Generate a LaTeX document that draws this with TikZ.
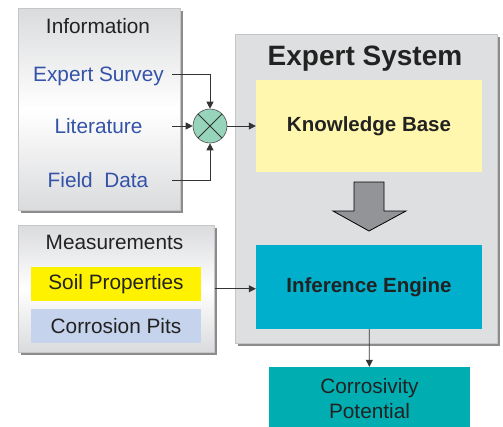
\documentclass[tikz,border=0pt]{standalone}
\usepackage{fontspec}
\setmainfont{Liberation Sans}
\usetikzlibrary{arrows.meta}
\usetikzlibrary{positioning}
\usetikzlibrary{shadows}

\definecolor{txtgray}{HTML}{222222}
\definecolor{infoblue}{HTML}{3453A8}
\definecolor{panelgray}{HTML}{DADBDD}
\definecolor{esgray}{HTML}{DEDFE1}
\definecolor{shadowgray}{HTML}{8C8C8E}
\definecolor{mixgreen}{HTML}{97D4BC}
\definecolor{kbyellow}{HTML}{FFF7AD}
\definecolor{iecyan}{HTML}{00AFCB}
\definecolor{cpteal}{HTML}{00AEB1}
\definecolor{soilyellow}{HTML}{FFF200}
\definecolor{pitblue}{HTML}{C6D3EC}
\definecolor{bigarrow}{HTML}{939498}

\begin{document}
\begin{tikzpicture}[x=1pt,y=-1pt,
  txt/.style={font=\fontsize{20.8}{25}\selectfont,text=txtgray,inner sep=0pt,align=center},
  bold/.style={txt,font=\fontsize{20.5}{25}\selectfont\bfseries},
  panel/.style={draw=gray!45,line width=0.5pt,anchor=north west,inner sep=0pt,
    drop shadow={shadow xshift=2.5pt,shadow yshift=-2.5pt,fill=shadowgray,opacity=1}},
  fade/.style={top color=panelgray,bottom color=panelgray,middle color=white},
  block/.style={inner sep=0pt,align=center},
  conn/.style={draw=black!80,line width=0.8pt,-{Triangle[length=7pt,width=7pt]}}]
  \useasboundingbox (0,0) rectangle (503,426);

  % sources
  \node[panel,fade,minimum width=162pt,minimum height=202pt] (info) at (18,8) {};
  \node[txt,anchor=base] (infotitle) at (98,33) {Information};
  \node[txt,anchor=base,text=infoblue] (survey) at (98.5,81) {Expert Survey};
  \node[txt,anchor=base,text=infoblue] (lit) at (98.5,133) {Literature};
  \node[txt,anchor=base,text=infoblue] (field) at (98,187) {Field\ \ Data};

  \node[panel,fade,minimum width=196pt,minimum height=127pt] (meas) at (18,225) {};
  \node[txt,anchor=base] (meastitle) at (114.5,249) {Measurements};
  \node[block,fill=soilyellow,minimum width=170pt,minimum height=34pt] (soil) at (116,284) {};
  \node[txt] at (soil) {Soil Properties};
  \node[block,fill=pitblue,minimum width=170pt,minimum height=34pt] (pits) at (116,326) {};
  \node[txt] at (pits) {Corrosion Pits};

  % expert system
  \node[panel,fill=esgray,minimum width=262pt,minimum height=309pt] (es) at (235,34) {};
  \node[txt,anchor=base,font=\fontsize{28}{32}\selectfont\bfseries] (estitle) at (365,65) {Expert System};
  \node[block,fill=kbyellow,minimum width=226pt,minimum height=92pt] (kb) at (369,126) {};
  \node[bold] at (kb) {Knowledge Base};
  \node[block,fill=iecyan,minimum width=226pt,minimum height=84pt] (ie) at (369,287) {};
  \node[bold] at (ie) {Inference Engine};
  \draw[fill=bigarrow,line width=0.8pt] (354,182) -- (384,182) -- (384,211) -- (406,211)
    -- (369,231) -- (333,211) -- (354,211) -- cycle;

  \node[block,fill=cpteal,minimum width=201pt,minimum height=60pt] (cp) at (369.5,397) {};
  \node[txt] at (369.5,399) {Corrosivity\\Potential};

  % mixing junction
  \node[circle,fill=mixgreen,draw=black!70,line width=0.6pt,minimum size=34pt,inner sep=0pt] (mix) at (210,126) {};
  \draw[black!80,line width=0.8pt] (mix.north west) -- (mix.south east) (mix.north east) -- (mix.south west);

  \coordinate (s1) at (172,74);
  \coordinate (s2) at (172,126);
  \coordinate (s3) at (172,180);
  \draw[conn] (s1) -| (mix);
  \draw[conn] (s2) -- (mix);
  \draw[conn] (s3) -| (mix);
  \draw[conn] (mix) -- (kb);
  \draw[conn] (meas.east) -- (meas.east -| ie.west);
  \draw[conn] (ie) -- (cp);
\end{tikzpicture}
\end{document}
